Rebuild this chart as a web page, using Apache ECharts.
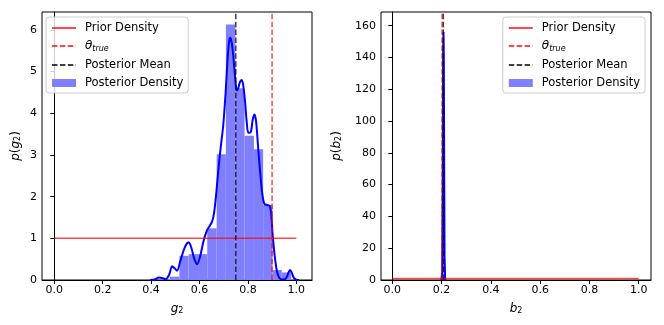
<!DOCTYPE html>
<html>
<head>
<meta charset="utf-8">
<script src="https://cdn.jsdelivr.net/npm/echarts@6/dist/echarts.min.js"></script>
<style>
    body { margin: 0; background: #fff; }
    #chart { width: 664px; height: 325px; }
</style>
</head>
<body>
<div id="chart"></div>
<script>
// ---- left panel (g2) ----
// histogram bins: [left edge, right edge, density]
const g2Hist = [
    [0.440, 0.478, 0.03], [0.478, 0.517, 0.08], [0.517, 0.555, 0.58],
    [0.555, 0.594, 0.62], [0.594, 0.632, 0.62], [0.632, 0.671, 1.24],
    [0.671, 0.709, 3.02], [0.709, 0.748, 6.13], [0.748, 0.786, 4.60],
    [0.786, 0.825, 3.46], [0.825, 0.863, 3.14], [0.863, 0.902, 1.80],
    [0.902, 0.940, 0.24], [0.940, 0.979, 0.18], [0.979, 1.017, 0.02]
];
// kde curve
const g2Kde = [
    [0.396, 0], [0.415, 0.01], [0.432, 0.06], [0.445, 0.05], [0.460, 0.02], [0.474, 0.12],
    [0.487, 0.33], [0.497, 0.28], [0.507, 0.22], [0.520, 0.44], [0.535, 0.72],
    [0.548, 0.88], [0.556, 0.90], [0.566, 0.78], [0.578, 0.52], [0.590, 0.38],
    [0.602, 0.55], [0.616, 0.92], [0.630, 1.18], [0.640, 1.28], [0.652, 1.40],
    [0.660, 1.60], [0.668, 2.00], [0.678, 2.65], [0.688, 3.20], [0.698, 3.70],
    [0.708, 4.50], [0.716, 5.30], [0.722, 5.70], [0.727, 5.81], [0.733, 5.70],
    [0.740, 5.35], [0.748, 4.80], [0.754, 4.55], [0.760, 4.60], [0.767, 4.75],
    [0.774, 4.80], [0.780, 4.70], [0.788, 4.30], [0.795, 3.80], [0.802, 3.53],
    [0.812, 3.55], [0.820, 3.85], [0.827, 3.97], [0.834, 3.80], [0.843, 3.13],
    [0.852, 2.50], [0.860, 2.05], [0.868, 1.83], [0.880, 1.80], [0.890, 1.78],
    [0.896, 1.60], [0.902, 1.12], [0.910, 0.62], [0.919, 0.24], [0.928, 0.07],
    [0.936, 0.02], [0.948, 0.01], [0.960, 0.06], [0.968, 0.18], [0.974, 0.24],
    [0.981, 0.18], [0.990, 0.05], [1.000, 0.01], [1.012, 0]
];
const g2True = 0.9;
const g2Mean = 0.75;

// ---- right panel (b2) ----
const b2Hist = [
    [0.2025, 0.2040, 20], [0.2040, 0.2055, 90], [0.2055, 0.2070, 150],
    [0.2070, 0.2085, 158], [0.2085, 0.2100, 140], [0.2100, 0.2115, 80],
    [0.2115, 0.2130, 25]
];
const b2Kde = [
    [0.199, 0], [0.2025, 5], [0.2045, 60], [0.2060, 140], [0.2075, 156],
    [0.2090, 140], [0.2105, 70], [0.2120, 15], [0.2145, 0]
];
const b2True = 0.202;
const b2Mean = 0.207;

// prior: uniform on [0, 1]
const priorLine = [[0, 1], [1, 1]];

// ticks
const xTicks = [0, 0.2, 0.4, 0.6, 0.8, 1.0];
const g2YTicks = [0, 1, 2, 3, 4, 5, 6];
const b2YTicks = [0, 20, 40, 60, 80, 100, 120, 140, 160];

const FONT = 'DejaVu Sans';
const RED = 'rgba(255,0,0,0.72)';
const DARK = 'rgba(0,0,0,0.75)';
const HIST = '#8080ff';
const g2YMax = 6.43;
const b2YMax = 168.6;

function histRender(params, api) {
    const p0 = api.coord([api.value(0), api.value(2)]);
    const p1 = api.coord([api.value(1), 0]);
    return {
        type: 'rect',
        shape: { x: p0[0], y: p0[1], width: p1[0] - p0[0], height: p1[1] - p0[1] },
        style: { fill: HIST }
    };
}

function xAxisOf(gridIndex, min, max, label) {
    return {
        type: 'value', gridIndex: gridIndex, min: min, max: max,
        splitLine: { show: false },
        axisLine: { show: true, onZero: false, lineStyle: { color: '#000', width: 1 } },
        axisTick: { show: true, length: 4, customValues: xTicks, lineStyle: { color: '#000' } },
        axisLabel: {
            customValues: xTicks, color: '#000', fontFamily: FONT, fontSize: 11, margin: 5,
            formatter: v => v.toFixed(1)
        },
        name: label, nameLocation: 'middle', nameGap: 22,
        nameTextStyle: {
            color: '#000', fontFamily: FONT,
            rich: {
                i: { fontSize: 12, fontStyle: 'italic', fontFamily: FONT },
                s: { fontSize: 8, fontFamily: FONT, padding: [5, 0, 0, 0] }
            }
        }
    };
}

function yAxisOf(gridIndex, max, ticks, label, gap) {
    return {
        type: 'value', gridIndex: gridIndex, min: 0, max: max,
        splitLine: { show: false },
        axisLine: { show: true, lineStyle: { color: '#000', width: 1 } },
        axisTick: { show: true, length: 4, customValues: ticks, lineStyle: { color: '#000' } },
        axisLabel: { customValues: ticks, color: '#000', fontFamily: FONT, fontSize: 11, margin: 5 },
        name: label, nameLocation: 'middle', nameGap: gap, nameRotate: 90,
        nameTextStyle: {
            color: '#000', fontFamily: FONT, fontSize: 12,
            rich: {
                i: { fontSize: 12, fontStyle: 'italic', fontFamily: FONT },
                n: { fontSize: 12, fontFamily: FONT },
                s: { fontSize: 8, fontFamily: FONT, padding: [5, 0, 0, 0] }
            }
        }
    };
}

function vline(name, x, ymax, color, idx) {
    return {
        name: name, type: 'line', xAxisIndex: idx, yAxisIndex: idx,
        data: [[x, 0], [x, ymax]], symbol: 'none', z: 5,
        lineStyle: { color: color, width: 1.5, type: [5.5, 2.4] },
        itemStyle: { color: color }
    };
}

// legend line icons: hide the circle marker that echarts adds
const noMarker = { color: 'transparent', borderColor: 'transparent', borderWidth: 0 };

function legendOf(pos) {
    return Object.assign({
        orient: 'vertical', top: 17,
        itemWidth: 24, itemHeight: 8, itemGap: 6,
        padding: [5, 5, 4, 5],
        backgroundColor: 'rgba(255,255,255,0.8)',
        borderColor: '#cccccc', borderWidth: 1, borderRadius: 3,
        data: [
            { name: 'Prior Density', itemStyle: noMarker },
            { name: 'theta_true', itemStyle: noMarker },
            { name: 'Posterior Mean', itemStyle: noMarker },
            { name: 'Posterior Density', icon: 'rect' }
        ],
        formatter: name => name === 'theta_true' ? '{t|θ}{s|true}' : name,
        textStyle: {
            color: '#000', fontFamily: FONT, fontSize: 11.5, padding: [0, 0, 0, 4],
            rich: {
                t: { fontSize: 12, fontStyle: 'italic', fontFamily: FONT },
                s: { fontSize: 8, fontStyle: 'italic', fontFamily: FONT, padding: [6, 0, 0, 0] }
            }
        }
    }, pos);
}

const chart = echarts.init(document.getElementById('chart'), null, { renderer: 'canvas' });

const option = {
    animation: false,
    backgroundColor: '#fff',
    grid: [
        { left: 42, right: 352, top: 12, bottom: 45, show: true, borderColor: '#000', borderWidth: 1, backgroundColor: 'transparent' },
        { left: 381, right: 13, top: 12, bottom: 45, show: true, borderColor: '#000', borderWidth: 1, backgroundColor: 'transparent' }
    ],
    legend: [
        legendOf({ left: 46 }),
        legendOf({ right: 19 })
    ],
    xAxis: [
        xAxisOf(0, -0.051, 1.065, '{i|g}{s|2}'),
        xAxisOf(1, -0.046, 1.05, '{i|b}{s|2}')
    ],
    yAxis: [
        yAxisOf(0, g2YMax, g2YTicks, '{i|p}{n|(}{i|g}{s|2}{n|)}', 20),
        yAxisOf(1, b2YMax, b2YTicks, '{i|p}{n|(}{i|b}{s|2}{n|)}', 38)
    ],
    series: [
        // left
        {
            name: 'Posterior Density', type: 'custom', xAxisIndex: 0, yAxisIndex: 0,
            renderItem: histRender, encode: { x: [0, 1], y: 2 },
            itemStyle: { color: HIST }, data: g2Hist, z: 1
        },
        {
            name: 'kde', type: 'line', xAxisIndex: 0, yAxisIndex: 0,
            data: g2Kde, symbol: 'none', smooth: 0.3, z: 3,
            lineStyle: { color: '#0000ff', width: 2 }
        },
        {
            name: 'Prior Density', type: 'line', xAxisIndex: 0, yAxisIndex: 0,
            data: priorLine, symbol: 'none', z: 4,
            lineStyle: { color: RED, width: 1.5 }, itemStyle: { color: RED }
        },
        vline('theta_true', g2True, g2YMax, RED, 0),
        vline('Posterior Mean', g2Mean, g2YMax, DARK, 0),
        // right
        {
            name: 'Posterior Density', type: 'custom', xAxisIndex: 1, yAxisIndex: 1,
            renderItem: histRender, encode: { x: [0, 1], y: 2 },
            itemStyle: { color: HIST }, data: b2Hist, z: 1
        },
        {
            name: 'kde', type: 'line', xAxisIndex: 1, yAxisIndex: 1,
            data: b2Kde, symbol: 'none', z: 3,
            lineStyle: { color: '#0000ff', width: 2 }
        },
        {
            name: 'Prior Density', type: 'line', xAxisIndex: 1, yAxisIndex: 1,
            data: priorLine, symbol: 'none', z: 4,
            lineStyle: { color: RED, width: 1.5 }, itemStyle: { color: RED }
        },
        vline('theta_true', b2True, b2YMax, RED, 1),
        vline('Posterior Mean', b2Mean, b2YMax, DARK, 1)
    ]
};

chart.setOption(option);
</script>
</body>
</html>
